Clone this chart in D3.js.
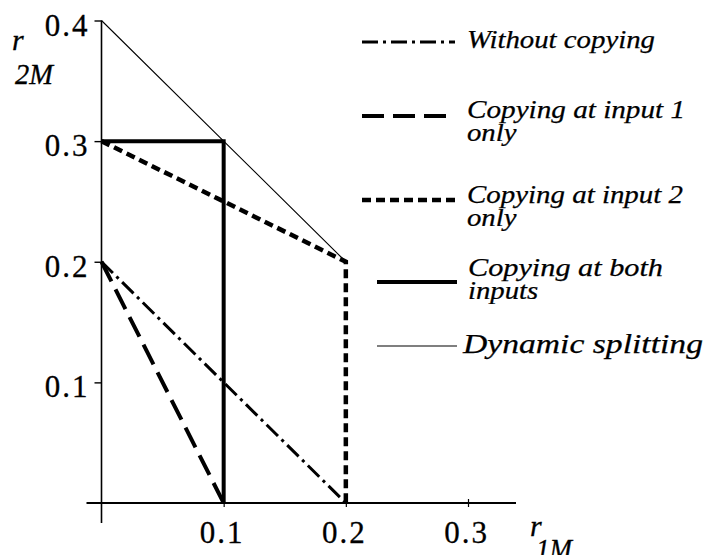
<!DOCTYPE html>
<html>
<head>
<meta charset="utf-8">
<script src="https://cdn.jsdelivr.net/npm/d3@7"></script>
<style>
  body { margin: 0; background: #fff; }
  svg { display: block; }
  text { font-family: "Liberation Serif", "Times New Roman", serif; fill: #000; }
</style>
</head>
<body>
<svg id="chart" width="707" height="555"></svg>
<script>
// data
var xTicks = [0.1, 0.2, 0.3]
var yTicks = [0.1, 0.2, 0.3, 0.4]

var withoutX = [0, 0.1, 0.2]
var withoutY = [0.2, 0.1, 0]

var input1X = [0, 0.1]
var input1Y = [0.2, 0]

var input2X = [0, 0.1, 0.2, 0.2]
var input2Y = [0.3, 0.25, 0.2, 0]

var bothX = [0, 0.1, 0.1]
var bothY = [0.3, 0.3, 0]

var dynX = [0, 0.1, 0.2]
var dynY = [0.4, 0.3, 0.2]

var legendLabels = [
    ["Without copying"],
    ["Copying at input  1", "only"],
    ["Copying at input 2", "only"],
    ["Copying at both", "inputs"],
    ["Dynamic splitting"]
]

var styles = [
    {width: 3, dash: "16,5,3,5"},
    {width: 4, dash: "22,9"},
    {width: 4.5, dash: "9,5"},
    {width: 4, dash: null},
    {width: 1.1, dash: null}
]

var series = [
    {x: withoutX, y: withoutY},
    {x: input1X, y: input1Y},
    {x: input2X, y: input2Y},
    {x: bothX, y: bothY},
    {x: dynX, y: dynY}
]

var svg = d3.select("#chart")

var x = d3.scaleLinear().domain([0, 0.3]).range([101.5, 468])
var y = d3.scaleLinear().domain([0, 0.4]).range([503, 20.5])

// axis lines (extend past origin like the original)
svg.append("line")
    .attr("x1", x(0)).attr("x2", x(0))
    .attr("y1", y(0.4)).attr("y2", y(0) + 20)
    .attr("stroke", "#000").attr("stroke-width", 1.6)
svg.append("line")
    .attr("x1", x(0) - 15).attr("x2", x(0.3) + 48)
    .attr("y1", y(0)).attr("y2", y(0))
    .attr("stroke", "#000").attr("stroke-width", 1.8)

function tickText(sel){
    sel.attr("font-size", 31)
        .attr("font-family", "Liberation Serif, serif")
        .attr("letter-spacing", 2)
        .attr("stroke", "#000")
        .attr("stroke-width", 0.3)
}

var yAxis = svg.append("g")
    .attr("transform", "translate(" + x(0) + ",0)")
    .call(d3.axisLeft(y).tickValues(yTicks).tickSize(7).tickPadding(5).tickFormat(d3.format(".1f")))
yAxis.select(".domain").remove()
yAxis.selectAll("line").attr("stroke-width", 1.4)
yAxis.selectAll("text").call(tickText).attr("dy", "0.47em")

var xAxis = svg.append("g")
    .attr("transform", "translate(0," + y(0) + ")")
    .call(d3.axisBottom(x).tickValues(xTicks).tickSize(4).tickFormat(d3.format(".1f")))
xAxis.select(".domain").remove()
xAxis.selectAll("line").attr("y1", -4).attr("stroke-width", 1.2)
xAxis.selectAll("text").call(tickText)
    .attr("y", 40)
    .attr("dy", 0)
    .attr("dx", -2)

// axis titles
var yTitle = svg.append("text").attr("font-style", "italic").attr("stroke", "#000").attr("stroke-width", 0.3)
yTitle.append("tspan").attr("x", 12).attr("y", 50).attr("font-size", 30).text("r")
yTitle.append("tspan").attr("x", 15).attr("y", 84).attr("font-size", 29)
    .attr("textLength", 38).attr("lengthAdjust", "spacingAndGlyphs").text("2M")

var xTitle = svg.append("text").attr("font-style", "italic").attr("stroke", "#000").attr("stroke-width", 0.3)
xTitle.append("tspan").attr("x", 530).attr("y", 536).attr("font-size", 30).text("r")
xTitle.append("tspan").attr("x", 536).attr("y", 559).attr("font-size", 29)
    .attr("textLength", 36).attr("lengthAdjust", "spacingAndGlyphs").text("1M")

// series
var line = d3.line()
    .x(function(d){ return x(d[0]) })
    .y(function(d){ return y(d[1]) })

series.forEach(function(s, i){
    var pts = s.x.map(function(v, j){ return [v, s.y[j]] })
    svg.append("path")
        .attr("d", line(pts))
        .attr("fill", "none")
        .attr("stroke", "#000")
        .attr("stroke-width", styles[i].width)
        .attr("stroke-dasharray", styles[i].dash)
})

// legend
var legendLineY = [42, 116, 200, 282, 346]
var legendX1 = [362, 362, 362, 377, 377]
var legendX2 = [455, 455, 455, 457, 457]
var legendTextX = [467, 467, 467, 468, 463]
var legendTextY = [48, 118, 203, 276, 353]
var legendTextW = [188, 218, 216, 195, 240]

var legend = svg.append("g")
legendLabels.forEach(function(lines, i){
    legend.append("line")
        .attr("x1", legendX1[i]).attr("x2", legendX2[i])
        .attr("y1", legendLineY[i]).attr("y2", legendLineY[i])
        .attr("stroke", "#000")
        .attr("stroke-width", styles[i].width)
        .attr("stroke-dasharray", styles[i].dash)
    lines.forEach(function(t, k){
        var txt = legend.append("text")
            .attr("x", legendTextX[i])
            .attr("y", legendTextY[i] + k * 23)
            .attr("font-size", i == 4 ? 27 : 25)
            .attr("font-style", "italic")
            .attr("stroke", "#000")
            .attr("stroke-width", 0.25)
            .text(t)
        if (k == 0) {
            txt.attr("textLength", legendTextW[i])
                .attr("lengthAdjust", "spacingAndGlyphs")
        } else {
            txt.attr("transform", "translate(" + legendTextX[i] + ",0) scale(1.15,1) translate(" + (-legendTextX[i]) + ",0)")
        }
    })
})
</script>
</body>
</html>
